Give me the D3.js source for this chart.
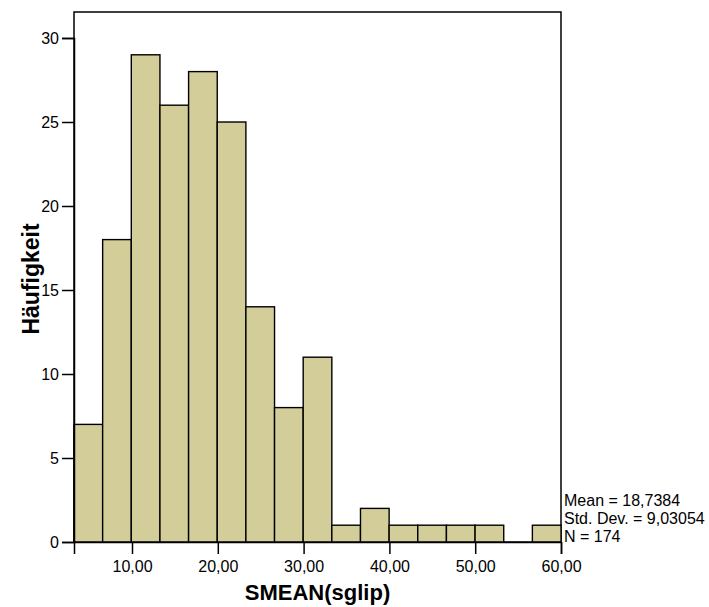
<!DOCTYPE html>
<html><head><meta charset="utf-8">
<script src="https://cdn.jsdelivr.net/npm/d3@7"></script>
<style>body{margin:0;background:#fff}svg{display:block}text{font-family:"Liberation Sans",Arial,sans-serif;fill:#000}</style>
</head><body><svg id="c" width="709" height="607"></svg>
<script>
const binStart = 3.24;
const binWidth = 3.339;
const counts = [7,18,29,26,28,25,14,8,11,1,2,1,1,1,1,0,1];
const xTicks = [10,20,30,40,50,60];
const yTicks = [0,5,10,15,20,25,30];
const statsLines = ["Mean = 18,7384","Std. Dev. = 9,03054","N = 174"];
const xTitle = "SMEAN(sglip)";
const yTitle = "Häufigkeit";

const svg = d3.select("#c");
const L=74,R=561,T=12,B=542;
const x = d3.scaleLinear().domain([binStart, 60]).range([L,R]);
const y = d3.scaleLinear().domain([0,30]).range([B,38]);
const bins = counts.map((c,i)=>({x0:binStart+i*binWidth,x1:binStart+(i+1)*binWidth,c}));

svg.append("rect").attr("x",L).attr("y",T).attr("width",R-L).attr("height",B-T)
  .attr("fill","#fff").attr("stroke","#000").attr("stroke-width",1.5);

svg.append("g").selectAll("rect").data(bins).join("rect")
  .attr("x",d=>x(d.x0)).attr("width",d=>x(d.x1)-x(d.x0))
  .attr("y",d=>y(d.c)).attr("height",d=>y(0)-y(d.c))
  .attr("fill","#d3ce99").attr("stroke","#000").attr("stroke-width",1.4);

const xa = svg.append("g").attr("transform",`translate(0,${B})`)
  .call(d3.axisBottom(x).tickValues(xTicks).tickSize(12).tickPadding(7).tickFormat(d=>d3.format(".2f")(d).replace(".",",")));
const ya = svg.append("g").attr("transform",`translate(${L},0)`)
  .call(d3.axisLeft(y).tickValues(yTicks).tickSize(12).tickPadding(3));
[xa,ya].forEach(a=>{
  a.select(".domain").attr("stroke","#000").attr("stroke-width",1.5);
  a.selectAll(".tick line").attr("stroke","#000").attr("stroke-width",1.5);
  a.selectAll("text").attr("font-size",16).attr("font-family","Liberation Sans, Arial, sans-serif").attr("fill","#000");
});

svg.append("text").attr("x",(L+R)/2).attr("y",600).attr("text-anchor","middle")
  .attr("font-size",22).attr("font-weight","bold").text(xTitle);
svg.append("text").attr("transform",`translate(39,279) rotate(-90)`).attr("text-anchor","middle")
  .attr("font-size",23).attr("font-weight","bold").text(yTitle);

svg.append("g").selectAll("text").data(statsLines).join("text")
  .attr("x",564).attr("y",(d,i)=>506+i*18).attr("font-size",16).text(d=>d);
</script></body></html>
